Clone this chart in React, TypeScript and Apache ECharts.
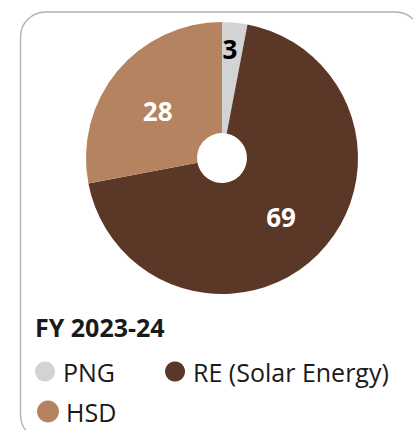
import React, { useEffect, useRef } from "react";
import * as echarts from "echarts";

const categories = ["PNG", "RE (Solar Energy)", "HSD"];
const values = [3, 69, 28];
const colors = ["#d1d3d4", "#5b3727", "#b5835f"];
const labelColors = ["#000000", "#ffffff", "#ffffff"];
const titleText = "FY 2023-24";

export default function App() {
  const ref = useRef<HTMLDivElement>(null);
  useEffect(() => {
    if (!ref.current) return;
    const chart = echarts.init(ref.current, undefined, { renderer: "svg" });
    const font = "'Open Sans', 'Noto Sans', sans-serif";
    // label nudges: PNG label sits further out, HSD slightly lower
    const labelFormat = ["{c}\n ", "{c}", " \n{c}"];
    const labelLineHeights = [52, 30, 12];
    chart.setOption({
      animation: false,
      backgroundColor: "#ffffff",
      title: {
        text: titleText,
        left: 35,
        top: 314,
        padding: 0,
        textStyle: { fontFamily: font, fontSize: 25, fontWeight: "bold", color: "#1a1a1a" },
      },
      graphic: [
        {
          type: "rect",
          z: -10,
          silent: true,
          shape: { x: 20.5, y: 12, width: 400, height: 428, r: 25 },
          style: { fill: "none", stroke: "#aeaeae", lineWidth: 1.3 },
        },
      ],
      legend: [
        {
          data: [categories[0], categories[1]],
          left: 35,
          top: 359,
          padding: 0,
          icon: "circle",
          itemWidth: 20,
          itemHeight: 20,
          itemGap: 50,
          selectedMode: false,
          textStyle: { fontFamily: font, fontSize: 25, color: "#1a1a1a", padding: [0, 0, 0, 3] },
        },
        {
          data: [categories[2]],
          left: 37,
          top: 399,
          padding: 0,
          icon: "circle",
          itemWidth: 22,
          itemHeight: 22,
          selectedMode: false,
          textStyle: { fontFamily: font, fontSize: 25, color: "#1a1a1a", padding: [0, 0, 0, 2] },
        },
      ],
      series: [
        {
          type: "pie",
          center: [222, 158],
          radius: [25, 136],
          startAngle: 90,
          clockwise: true,
          avoidLabelOverlap: false,
          labelLine: { show: false },
          emphasis: { disabled: true },
          data: categories.map((name, i) => ({
            name,
            value: values[i],
            itemStyle: { color: colors[i] },
            label: {
              show: true,
              position: "inside",
              formatter: labelFormat[i],
              fontFamily: font,
              fontSize: 26,
              fontWeight: "bold",
              lineHeight: labelLineHeights[i],
              color: labelColors[i],
            },
          })),
        },
      ],
    });
    return () => chart.dispose();
  }, []);
  return (
    <div
      ref={ref}
      style={{ position: "fixed", left: 0, top: 0, width: 413, height: 430 }}
    />
  );
}
